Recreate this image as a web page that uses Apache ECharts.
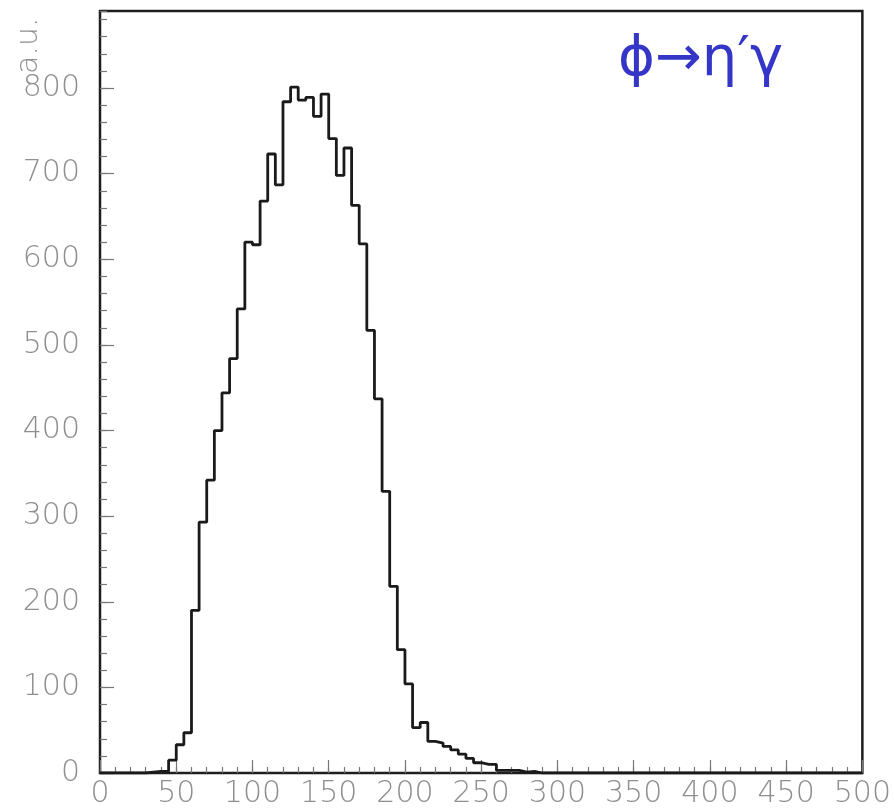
<!DOCTYPE html>
<html>
<head>
<meta charset="utf-8">
<script src="https://cdn.jsdelivr.net/npm/echarts@6/dist/echarts.min.js"></script>
<style>
html,body{margin:0;padding:0;background:#fff;}
#chart{width:894px;height:809px;}
</style>
</head>
<body>
<div id="chart"></div>
<script>
// Histogram: bins of width 5 starting at 0
const binStart = 0;
const binWidth = 5;
const counts = [
  0, 0, 0, 0, 0, 0, 1, 2, 2, 15,
  33, 47, 190, 293, 342, 400, 444, 484, 542, 620,
  617, 668, 723, 687, 784, 801, 786, 789, 767, 793,
  741, 698, 730, 663, 618, 517, 437, 329, 218, 144,
  104, 53, 59, 37, 35, 31, 27, 22, 17, 12,
  10, 10, 3, 3, 3, 1, 2, 0, 0, 0,
  0, 0, 0, 0, 0, 0, 0, 0, 0, 0,
  0, 0, 0, 0, 0, 0, 0, 0, 0, 0,
  0, 0, 0, 0, 0, 0, 0, 0, 0, 0,
  0, 0, 0, 0, 0, 0, 0, 0, 0, 0
];
const yAxisName = 'a.u.';
const titleText = 'ϕ→η′γ';

// Step points: left edge of each bin, plus closing right edge
const stepData = counts.map((c, i) => [binStart + i * binWidth, c]);
stepData.push([binStart + counts.length * binWidth, counts[counts.length - 1]]);

const labelStyle = {
  color: '#8f8f8f',
  fontFamily: 'DejaVu Sans',
  fontWeight: 200,
  fontSize: 30
};

const chart = echarts.init(document.getElementById('chart'), null, {renderer: 'canvas'});
chart.setOption({
  animation: false,
  backgroundColor: '#ffffff',
  grid: {
    left: 100, right: 31, top: 11, bottom: 36,
    show: true, borderColor: '#1e1e1e', borderWidth: 2.5, backgroundColor: 'transparent'
  },
  xAxis: [
    {
      type: 'value', min: 0, max: 500, interval: 50,
      axisLine: {show: false},
      axisTick: {show: true, inside: true, length: 13, lineStyle: {color: '#777', width: 1.2}},
      splitLine: {show: false},
      axisLabel: Object.assign({margin: 6}, labelStyle)
    },
    {
      type: 'value', min: 0, max: 500, interval: 10, position: 'bottom',
      axisLine: {show: false},
      axisTick: {show: true, inside: true, length: 6, lineStyle: {color: '#777', width: 1.2}},
      splitLine: {show: false},
      axisLabel: {show: false}
    }
  ],
  yAxis: [
    {
      type: 'value', min: 0, max: 890, interval: 100,
      axisLine: {show: false},
      axisTick: {show: true, inside: true, length: 14, lineStyle: {color: '#777', width: 1.2}},
      splitLine: {show: false},
      axisLabel: Object.assign({margin: 20, showMaxLabel: false}, labelStyle)
    },
    {
      type: 'value', min: 0, max: 890, interval: 20, position: 'left',
      axisLine: {show: false},
      axisTick: {show: true, inside: true, length: 7, lineStyle: {color: '#777', width: 1.2}},
      splitLine: {show: false},
      axisLabel: {show: false}
    }
  ],
  graphic: [
    {
      type: 'text',
      x: 14, y: 74,
      rotation: Math.PI / 2,
      style: {
        text: yAxisName,
        fill: '#8f8f8f',
        font: '200 30px "DejaVu Sans"',
        textAlign: 'left',
        textVerticalAlign: 'top'
      }
    },
    {
      type: 'text',
      left: 618, top: 32,
      style: {
        text: titleText,
        fill: '#3535c8',
        font: '56px "DejaVu Sans"'
      }
    }
  ],
  series: [
    {
      type: 'line',
      xAxisIndex: 0, yAxisIndex: 0,
      step: 'end',
      data: stepData,
      symbol: 'none',
      lineStyle: {color: '#1a1a1a', width: 2.8},
      z: 5
    }
  ]
});
</script>
</body>
</html>
